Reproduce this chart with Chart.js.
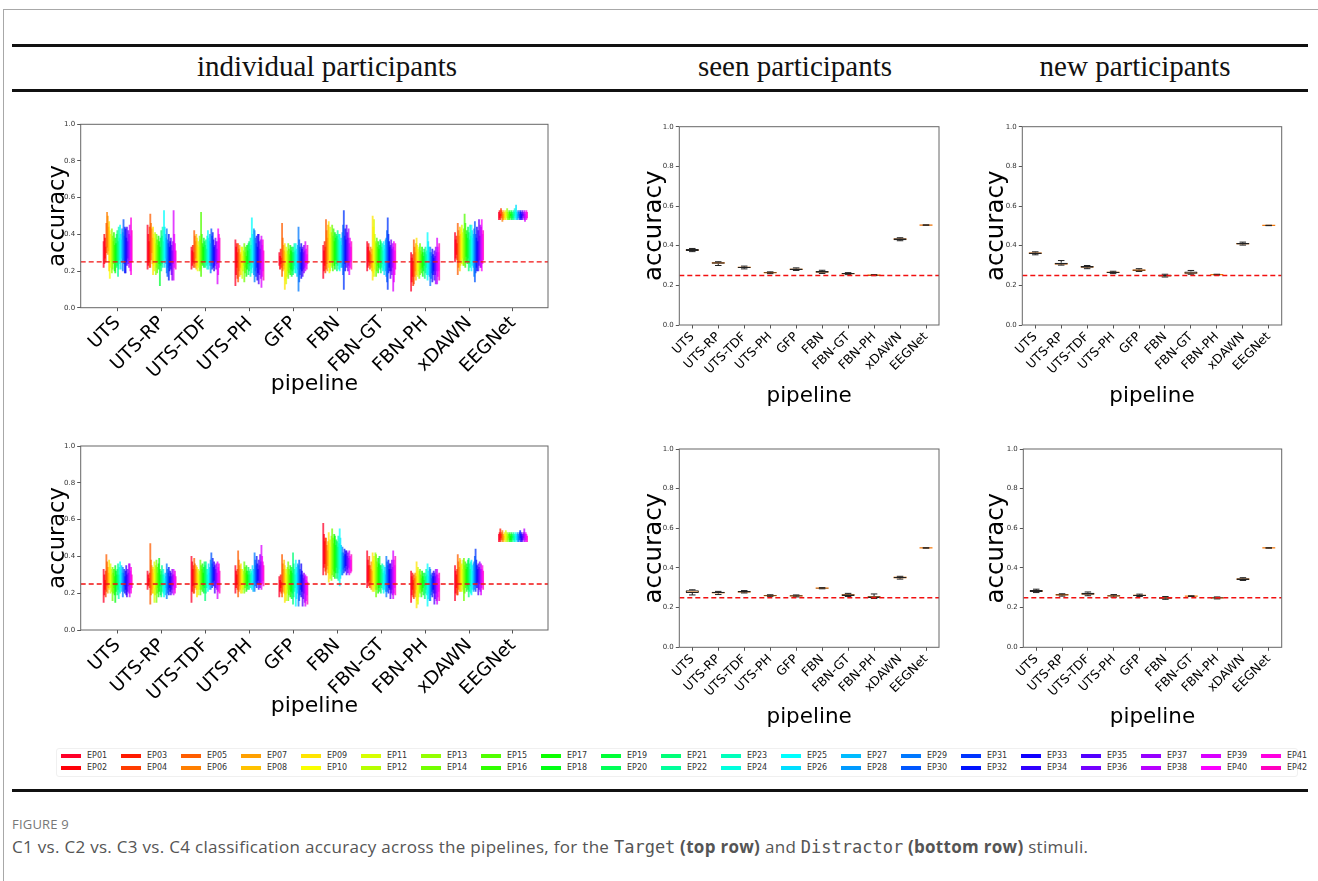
<!DOCTYPE html>
<html>
<head>
<meta charset="utf-8">
<script src="https://cdn.jsdelivr.net/npm/chart.js@4.4.0/dist/chart.umd.min.js"></script>
<style>
  body { margin: 0; width: 1318px; height: 881px; background: #fff; position: relative; overflow: hidden; font-family: "DejaVu Sans", sans-serif; }
  .frame { position: absolute; left: 3px; top: 9px; width: 1330px; height: 900px; border-left: 1px solid #a8a8a8; border-top: 1px solid #a8a8a8; }
  .rule { position: absolute; left: 12px; width: 1296px; height: 2.5px; background: #111; }
  .head { position: absolute; top: 50px; line-height: 29px; font: 29px "Liberation Serif", "DejaVu Serif", serif; color: #111; white-space: nowrap; transform: translateX(-50%); }
  canvas { position: absolute; }
  #legend { position: absolute; left: 56px; top: 748px; width: 1240px; height: 27px; border: 1px solid #f0f0f0; border-radius: 3px; }
  .sw { position: absolute; width: 20px; height: 4px; }
  .lt { position: absolute; font: 8px "DejaVu Sans", sans-serif; color: #333; line-height: 10px; }
  .fig { position: absolute; left: 12px; top: 815px; font: 13px "Open Sans", sans-serif; color: #777; letter-spacing: 0.2px; }
  .cap { position: absolute; left: 12px; top: 835px; font: 17px "Open Sans", sans-serif; color: #555; white-space: nowrap; letter-spacing: 0.3px; }
  .cap code { font: 17px "DejaVu Sans Mono", monospace; color: #555; letter-spacing: 0; }
</style>
</head>
<body>
<div class="frame"></div>
<div class="rule" style="top:44px"></div>
<div class="rule" style="top:89px"></div>
<div class="rule" style="top:789px"></div>
<div class="head" style="left:327px">individual participants</div>
<div class="head" style="left:795px">seen participants</div>
<div class="head" style="left:1135px">new participants</div>

<canvas id="indTarget"></canvas>
<canvas id="seenTarget"></canvas>
<canvas id="newTarget"></canvas>
<canvas id="indDistractor"></canvas>
<canvas id="seenDistractor"></canvas>
<canvas id="newDistractor"></canvas>

<div id="legend"></div>
<div class="fig">FIGURE 9</div>
<div class="cap">C1 vs. C2 vs. C3 vs. C4 classification accuracy across the pipelines, for the <code>Target</code> <b>(top row)</b> and <code>Distractor</code> <b>(bottom row)</b> stimuli.</div>

<script>
const pipelines = ['UTS', 'UTS-RP', 'UTS-TDF', 'UTS-PH', 'GFP', 'FBN', 'FBN-GT', 'FBN-PH', 'xDAWN', 'EEGNet'];
const participants = ['EP01','EP02','EP03','EP04','EP05','EP06','EP07','EP08','EP09','EP10','EP11','EP12','EP13','EP14',
  'EP15','EP16','EP17','EP18','EP19','EP20','EP21','EP22','EP23','EP24','EP25','EP26','EP27','EP28',
  'EP29','EP30','EP31','EP32','EP33','EP34','EP35','EP36','EP37','EP38','EP39','EP40','EP41','EP42'];
const chanceLevel = 0.25;

// individual participants, Target: per pipeline, per participant whisker low / high (x100)
const targetLow = [
  [22,24,27,25,30,33,29,31,20,16,22,25,19,21,24,26,20,19,25,22,23,17,21,26,24,21,27,25,20,26,24,19,19,25,23,27,24,22,26,20,18,25],
  [21,23,25,22,22,26,30,24,18,23,20,24,18,22,19,25,21,24,12,23,20,24,22,26,25,22,27,24,19,17,22,15,20,23,21,18,15,24,15,22,25,21],
  [21,23,25,22,24,22,27,21,23,20,22,25,20,21,17,24,23,26,22,25,22,25,23,21,24,21,26,23,19,23,21,25,22,20,23,25,21,24,13,18,22,25],
  [12,18,22,16,14,20,17,22,18,21,16,20,23,14,19,22,17,21,24,18,20,23,17,21,19,22,25,18,14,20,17,22,15,19,13,18,21,16,11,17,20,15],
  [23,21,24,22,17,20,23,21,10,15,13,17,20,16,19,22,18,21,17,20,18,21,23,19,19,22,17,21,9,14,18,21,16,20,17,21,19,22,20,23,21,24],
  [16,20,23,19,21,24,20,26,22,19,20,23,25,22,20,25,23,21,26,24,20,23,25,21,20,24,22,26,22,18,10,24,20,25,22,25,20,23,18,22,25,21],
  [20,22,25,23,21,24,22,20,15,19,17,21,24,17,20,23,19,22,25,21,19,22,24,20,21,18,23,20,17,14,10,19,22,20,16,20,18,22,9,14,18,21],
  [9,14,17,12,13,17,20,15,18,21,17,20,16,18,21,19,22,17,20,23,16,19,22,18,15,18,21,17,12,16,19,14,18,20,15,18,13,20,13,17,20,15],
  [25,27,29,26,18,22,25,20,23,26,24,27,23,23,26,22,28,25,24,27,20,24,22,26,20,23,25,22,17,14,19,22,20,25,20,23,26,22,22,20,24,26],
  [48,49,48,50,49,47,48,49,48,49,48,50,49,48,49,48,49,50,48,49,48,49,48,50,49,48,49,48,49,50,48,49,48,49,48,50,49,48,47,49,48,49]
];
const targetHigh = [
  [36,40,38,33,46,52,50,44,47,42,40,37,43,39,36,41,34,38,35,40,42,36,44,38,45,40,37,43,41,48,39,44,43,38,44,36,42,40,45,39,49,42],
  [45,40,36,44,51,46,43,38,44,40,38,41,35,40,37,34,39,36,33,38,42,39,44,36,53,44,40,38,43,37,35,40,33,36,38,34,31,36,53,40,35,31],
  [33,31,34,30,42,39,36,40,38,34,36,33,39,37,52,40,35,33,38,36,34,37,32,39,42,38,36,40,35,43,39,41,37,33,34,38,36,32,36,43,40,38],
  [37,33,35,30,35,32,34,29,30,33,33,28,31,35,30,33,28,34,31,35,36,32,38,34,49,40,37,43,42,38,35,39,33,40,40,36,32,37,39,34,37,31],
  [30,28,32,27,46,38,34,31,35,30,33,29,31,35,32,29,34,31,33,30,33,30,35,31,35,32,29,34,44,37,33,30,35,32,33,30,34,31,36,32,29,34],
  [34,31,36,33,48,42,38,45,47,40,44,38,41,45,39,43,36,41,38,40,39,42,37,40,40,36,38,34,41,45,53,39,43,37,45,41,38,43,35,38,33,36],
  [36,33,35,31,30,33,29,32,50,44,48,40,36,35,38,33,36,32,34,37,36,33,35,31,36,34,32,37,38,42,49,40,36,33,34,37,32,35,33,36,31,35],
  [30,27,29,25,37,33,30,35,38,34,32,30,33,35,31,29,33,30,28,32,30,33,29,31,41,36,33,30,33,30,28,32,29,27,31,28,33,30,38,33,30,35],
  [41,37,39,35,46,42,39,44,40,43,45,41,38,43,51,46,40,42,38,44,41,37,45,39,45,42,38,40,43,47,40,38,44,36,42,48,39,45,44,48,40,42],
  [52,53,51,54,53,52,51,53,52,51,53,52,54,52,51,53,52,51,53,52,51,53,52,54,53,56,52,51,53,52,51,53,52,51,53,52,51,53,52,51,53,52]
];

// individual participants, Distractor
const distractorLow = [
  [15,19,22,18,21,24,20,23,22,25,20,23,21,16,20,23,19,15,21,24,19,22,17,21,20,23,21,25,18,21,24,20,22,19,18,21,24,20,18,22,20,23],
  [22,24,26,23,14,19,22,20,20,23,15,19,22,15,20,23,18,21,24,19,18,21,24,20,18,21,19,23,17,20,22,19,23,21,19,22,20,24,19,22,20,23],
  [15,21,24,20,20,23,25,22,18,22,19,22,24,19,22,25,21,24,20,23,16,20,23,25,21,24,22,25,22,25,23,26,24,27,20,23,25,22,17,21,24,20],
  [20,23,25,22,18,21,24,22,20,23,20,22,25,20,23,25,21,24,22,26,22,25,23,26,22,24,21,25,21,24,26,23,25,27,22,25,23,26,22,25,27,24],
  [18,21,23,20,18,21,24,20,15,19,16,20,22,16,19,22,18,21,17,20,14,18,21,23,13,17,20,22,13,16,19,22,18,21,13,17,20,15,13,16,19,14],
  [30,34,36,32,30,33,35,31,26,30,28,31,27,30,33,29,32,28,31,34,28,31,27,33,24,28,32,30,30,33,31,34,32,35,30,33,31,34,30,33,31,32],
  [23,26,24,27,23,25,22,26,21,24,21,24,22,18,22,25,20,23,21,24,20,23,25,22,20,22,24,21,18,21,24,20,23,22,17,20,22,19,17,20,23,19],
  [15,19,22,18,17,20,18,22,12,16,14,18,21,20,22,18,21,23,19,24,17,20,22,19,13,17,20,16,16,19,21,18,22,20,14,17,20,16,14,18,21,16],
  [16,20,23,19,19,22,25,21,21,24,21,24,22,16,20,23,25,21,24,22,18,21,24,20,19,22,25,21,22,24,21,25,23,26,19,22,25,21,19,23,26,22],
  [48,49,48,50,49,48,49,48,49,50,48,49,48,49,50,48,49,48,49,48,50,49,48,49,48,50,49,48,49,48,49,50,48,49,48,49,50,48,49,48,49,48]
];
const distractorHigh = [
  [33,30,27,32,41,37,34,31,38,34,36,33,30,34,31,33,29,35,32,30,33,36,30,34,37,33,35,31,34,31,33,29,32,35,30,33,31,36,36,32,34,30],
  [32,30,28,31,47,38,35,33,34,31,37,33,35,38,34,31,36,39,33,30,32,35,30,33,30,28,31,29,36,33,31,34,29,32,31,29,33,30,33,30,32,29],
  [40,37,33,35,39,36,33,35,34,31,33,30,32,38,35,33,36,31,34,37,35,37,33,30,33,36,31,34,38,42,36,39,34,37,35,33,36,31,37,34,36,32],
  [35,32,30,33,43,38,35,33,36,33,33,30,32,37,34,31,35,32,30,34,32,30,33,31,32,35,30,33,42,38,35,40,36,33,38,35,41,37,46,40,37,35],
  [29,27,30,26,41,36,33,38,35,31,33,30,34,37,33,30,35,32,34,31,42,36,33,30,38,34,31,36,35,38,33,30,36,32,30,28,31,29,30,27,29,26],
  [58,52,48,50,50,46,43,48,53,47,49,45,51,55,50,47,52,51,46,49,48,45,51,47,55,50,46,42,45,42,40,44,41,43,43,40,42,39,43,40,38,41],
  [43,38,35,40,35,33,37,32,42,38,40,36,42,41,37,34,39,36,40,35,35,33,36,31,35,32,34,30,40,37,35,38,33,36,36,33,38,34,43,38,35,40],
  [32,29,31,27,30,28,31,29,37,32,34,30,32,33,30,28,32,29,31,27,31,29,33,30,36,32,29,34,33,30,28,31,29,32,31,29,33,30,33,30,28,31],
  [35,32,30,33,41,37,34,39,38,35,36,33,38,39,35,37,33,36,34,38,39,36,33,37,38,35,32,36,37,40,44,38,35,33,36,34,37,33,36,33,35,32],
  [52,53,55,52,53,54,52,51,53,52,54,52,53,51,52,53,52,51,53,52,51,53,52,51,53,52,51,53,52,51,53,54,52,53,51,52,53,55,52,53,52,51]
];

// pooled models: box statistics per pipeline
const seenTargetLow = [0.370, 0.300, 0.283, 0.259, 0.275, 0.260, 0.254, 0.249, 0.425, 0.503];
const seenTargetQ1  = [0.373, 0.309, 0.287, 0.261, 0.277, 0.263, 0.256, 0.250, 0.428, 0.503];
const seenTargetMed = [0.378, 0.313, 0.291, 0.264, 0.281, 0.268, 0.259, 0.251, 0.433, 0.504];
const seenTargetQ3  = [0.383, 0.317, 0.294, 0.266, 0.285, 0.272, 0.262, 0.253, 0.437, 0.505];
const seenTargetHigh = [0.386, 0.319, 0.297, 0.268, 0.288, 0.276, 0.264, 0.254, 0.440, 0.505];

const newTargetLow = [0.354, 0.302, 0.284, 0.259, 0.270, 0.242, 0.256, 0.252, 0.403, 0.501];
const newTargetQ1  = [0.358, 0.305, 0.289, 0.262, 0.273, 0.245, 0.259, 0.253, 0.406, 0.502];
const newTargetMed = [0.362, 0.309, 0.293, 0.265, 0.276, 0.249, 0.263, 0.254, 0.410, 0.502];
const newTargetQ3  = [0.366, 0.314, 0.297, 0.268, 0.280, 0.253, 0.270, 0.255, 0.414, 0.503];
const newTargetHigh = [0.369, 0.325, 0.300, 0.271, 0.284, 0.256, 0.275, 0.256, 0.418, 0.503];

const seenDistractorLow = [0.264, 0.266, 0.274, 0.257, 0.254, 0.295, 0.256, 0.246, 0.344, 0.500];
const seenDistractorQ1  = [0.274, 0.272, 0.276, 0.259, 0.256, 0.296, 0.259, 0.248, 0.348, 0.501];
const seenDistractorMed = [0.281, 0.276, 0.280, 0.261, 0.259, 0.298, 0.264, 0.254, 0.352, 0.501];
const seenDistractorQ3  = [0.288, 0.280, 0.284, 0.263, 0.262, 0.300, 0.268, 0.258, 0.356, 0.502];
const seenDistractorHigh = [0.290, 0.282, 0.286, 0.265, 0.264, 0.301, 0.272, 0.269, 0.358, 0.502];

const newDistractorLow = [0.276, 0.258, 0.260, 0.253, 0.256, 0.242, 0.256, 0.244, 0.337, 0.500];
const newDistractorQ1  = [0.279, 0.261, 0.265, 0.256, 0.259, 0.245, 0.257, 0.246, 0.340, 0.501];
const newDistractorMed = [0.284, 0.265, 0.270, 0.259, 0.262, 0.249, 0.258, 0.249, 0.344, 0.501];
const newDistractorQ3  = [0.289, 0.268, 0.275, 0.262, 0.265, 0.253, 0.259, 0.252, 0.348, 0.502];
const newDistractorHigh = [0.293, 0.270, 0.279, 0.266, 0.268, 0.256, 0.260, 0.254, 0.351, 0.502];

// gist_rainbow colormap
const rainbowStops = [[0, [255, 0, 41]], [0.03, [255, 0, 0]], [0.215, [255, 255, 0]], [0.4, [0, 255, 0]],
  [0.586, [0, 255, 255]], [0.77, [0, 0, 255]], [0.954, [255, 0, 255]], [1, [255, 0, 191]]];
function rainbow(t, alpha) {
  for (let i = 1; i < rainbowStops.length; i++) {
    const [t1, c1] = rainbowStops[i], [t0, c0] = rainbowStops[i - 1];
    if (t <= t1) {
      const f = (t - t0) / (t1 - t0);
      return 'rgba(' + c0.map((c, k) => Math.round(c + (c1[k] - c) * f)).join(',') + ',' + alpha + ')';
    }
  }
}
const participantColor = (i, alpha = 1) => rainbow(i / (participants.length - 1), alpha);

Chart.defaults.font.family = '"DejaVu Sans", sans-serif';

const frame = {
  id: 'frame',
  afterDatasetsDraw(chart) {
    const a = chart.chartArea, c = chart.ctx;
    c.save();
    c.strokeStyle = '#666';
    c.lineWidth = 1;
    c.strokeRect(a.left, a.top, a.right - a.left, a.bottom - a.top);
    c.restore();
  }
};

function chanceLine(xlim) {
  return {
    type: 'line', order: -1,
    data: [{x: xlim[0], y: chanceLevel}, {x: xlim[1], y: chanceLevel}],
    borderColor: '#f21010', borderWidth: 1.4, borderDash: [5, 3], pointRadius: 0
  };
}

// L: canvas box + plot box (page coords) + label positions
function makeChart(id, L, xlim, datasets, f) {
  const cv = document.getElementById(id);
  cv.width = L.w; cv.height = L.h;
  cv.style.left = L.x + 'px'; cv.style.top = L.y + 'px';
  new Chart(cv, {
    type: 'bar',
    data: {datasets: datasets.concat([chanceLine(xlim)])},
    options: {
      responsive: false, animation: false, events: [],
      layout: {padding: {left: 0, top: L.pt - L.y, right: L.x + L.w - L.pr, bottom: 0}},
      plugins: {legend: {display: false}, tooltip: {enabled: false}},
      scales: {
        x: {
          type: 'linear', min: xlim[0], max: xlim[1], offset: false,
          grid: {display: true, offset: false, drawOnChartArea: false, tickLength: 3.5, color: '#555'},
          border: {display: false},
          afterBuildTicks: s => { s.ticks = pipelines.map((_, i) => ({value: i + 1})); },
          afterFit: s => { s.height = L.y + L.h - L.pb; },
          ticks: {autoSkip: false, minRotation: 45, maxRotation: 45, padding: 1, color: '#000',
                  font: {size: f.xt}, callback: v => pipelines[v - 1]},
          title: {display: true, text: 'pipeline', color: '#000', font: {size: f.xl},
                  padding: {top: 0, bottom: L.y + L.h - L.xly - f.xl * 0.6}}
        },
        y: {
          min: 0, max: 1,
          grid: {display: true, drawOnChartArea: false, tickLength: 3.5, color: '#555'},
          border: {display: false},
          afterFit: s => { s.width = L.pl - L.x; },
          ticks: {stepSize: 0.2, padding: 2, color: '#333', font: {size: 7}, callback: v => v.toFixed(1)},
          title: {display: true, text: 'accuracy', color: '#000', font: {size: f.yl},
                  padding: {top: L.ylx - L.x - f.yl * 0.6, bottom: 0}}
        }
      }
    },
    plugins: [frame]
  });
}

// individual participants: one thin floating bar per participant and pipeline
const indXlim = [0.158, 10.797];
const spread = 0.0156;
function participantBars(low, high) {
  return participants.map((name, p) => ({
    label: name,
    data: pipelines.map((_, k) => ({x: k + 1 + (p - 20.5) * spread, y: [low[k][p] / 100, high[k][p] / 100]})),
    backgroundColor: participantColor(p, 0.75),
    barThickness: 1.2, grouped: false, borderWidth: 0
  }));
}

// pooled models: matplotlib-like box plots
const boxXlim = [0.5, 10.5];
function boxPlot(lo, q1, med, q3, hi) {
  const gap = k => ({x: k + 1, y: null});
  const whiskers = [], caps = [], medians = [];
  pipelines.forEach((_, k) => {
    const x = k + 1;
    whiskers.push({x, y: lo[k]}, {x, y: q1[k]}, gap(k), {x, y: q3[k]}, {x, y: hi[k]}, gap(k));
    caps.push({x: x - 0.125, y: lo[k]}, {x: x + 0.125, y: lo[k]}, gap(k),
              {x: x - 0.125, y: hi[k]}, {x: x + 0.125, y: hi[k]}, gap(k));
    medians.push({x: x - 0.25, y: med[k]}, {x: x + 0.25, y: med[k]}, gap(k));
  });
  const line = (data, color, w) => ({type: 'line', data, borderColor: color, borderWidth: w, pointRadius: 0, spanGaps: false});
  return [
    {data: pipelines.map((_, k) => ({x: k + 1, y: [q1[k], q3[k]]})), backgroundColor: 'rgba(235,235,235,0.6)',
     borderColor: '#222', borderWidth: 1, borderSkipped: false, barPercentage: 0.5, categoryPercentage: 1},
    line(whiskers, '#222', 1), line(caps, '#222', 1), line(medians, '#ff7f0e', 1.3)
  ];
}

const bigFont = {xt: 18.5, xl: 22, yl: 22.5};
const smallFont = {xt: 12.5, xl: 21.5, yl: 24.5};

makeChart('indTarget', {x: 0, y: 100, w: 600, h: 310, pl: 80.7, pt: 124.3, pr: 548, pb: 307.7, ylx: 58, xly: 384},
  indXlim, participantBars(targetLow, targetHigh), bigFont);
makeChart('indDistractor', {x: 0, y: 420, w: 600, h: 310, pl: 80.7, pt: 446, pr: 548, pb: 630, ylx: 58, xly: 706},
  indXlim, participantBars(distractorLow, distractorHigh), bigFont);
makeChart('seenTarget', {x: 620, y: 100, w: 330, h: 320, pl: 679.3, pt: 126.7, pr: 939, pb: 325, ylx: 655, xly: 396},
  boxXlim, boxPlot(seenTargetLow, seenTargetQ1, seenTargetMed, seenTargetQ3, seenTargetHigh), smallFont);
makeChart('newTarget', {x: 960, y: 100, w: 335, h: 320, pl: 1022.3, pt: 126.7, pr: 1281.7, pb: 325, ylx: 996.7, xly: 396},
  boxXlim, boxPlot(newTargetLow, newTargetQ1, newTargetMed, newTargetQ3, newTargetHigh), smallFont);
makeChart('seenDistractor', {x: 620, y: 420, w: 330, h: 320, pl: 679.3, pt: 449, pr: 939, pb: 647.3, ylx: 655, xly: 717},
  boxXlim, boxPlot(seenDistractorLow, seenDistractorQ1, seenDistractorMed, seenDistractorQ3, seenDistractorHigh), smallFont);
makeChart('newDistractor', {x: 960, y: 420, w: 335, h: 320, pl: 1023.3, pt: 449, pr: 1281.7, pb: 647.3, ylx: 996.7, xly: 717},
  boxXlim, boxPlot(newDistractorLow, newDistractorQ1, newDistractorMed, newDistractorQ3, newDistractorHigh), smallFont);

// shared legend, two rows
const legend = document.getElementById('legend');
participants.forEach((name, p) => {
  const col = Math.floor(p / 2), row = p % 2;
  const sw = document.createElement('div');
  sw.className = 'sw';
  sw.style.left = (3.5 + col * 60) + 'px';
  sw.style.top = (5.3 + row * 11.8) + 'px';
  sw.style.background = participantColor(p);
  const t = document.createElement('div');
  t.className = 'lt';
  t.style.left = (30 + col * 60) + 'px';
  t.style.top = (2.3 + row * 11.8) + 'px';
  t.textContent = name;
  legend.appendChild(sw);
  legend.appendChild(t);
});
</script>
</body>
</html>
